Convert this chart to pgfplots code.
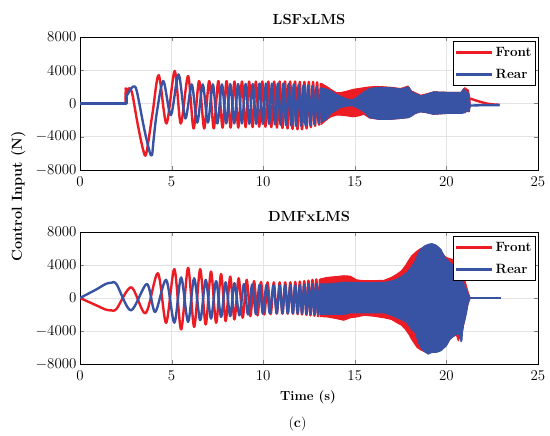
\RequirePackage{fix-cm}
\documentclass[border=0pt]{standalone}
\usepackage{fontspec}
\usepackage{pgfplots}
\pgfplotsset{compat=1.18}
\definecolor{redc}{RGB}{237,28,36}
\definecolor{bluec}{RGB}{57,83,164}
\pgfplotsset{
  myax/.style={
    scale only axis, width=458bp, anchor=south west,
    xmin=0, xmax=25, ymin=-8000, ymax=8000,
    xtick={0,5,10,15,20,25}, ytick={-8000,-4000,0,4000,8000},
    scaled y ticks=false,
    yticklabel style={/pgf/number format/1000 sep={}},
    xticklabel style={yshift=-3bp},
    tick label style={font=\fontsize{15}{15}\selectfont},
    grid=major, major grid style={line width=0.5bp, gray!22},
    tick align=inside, major tick length=4bp,
    axis line style={line width=0.7bp},
    legend style={at={(0.9956,0.97)}, anchor=north east, draw=black, line width=0.8bp,
      inner xsep=2bp, inner ysep=4bp, font=\bfseries\fontsize{13.5}{13.5}\selectfont, row sep=7bp},
    legend cell align=left,
    legend image code/.code={\draw[##1, line width=2.6bp] (0bp,0bp) -- (36bp,0bp);},
  },
  rl/.style={redc, line width=2.4bp, line join=round, forget plot},
  bl/.style={bluec, line width=2.4bp, line join=round, forget plot},
  rf/.style={draw=redc, fill=redc, line width=1bp, line join=round, forget plot},
  bf/.style={draw=bluec, fill=bluec, line width=1bp, line join=round, forget plot},
}
\begin{document}
\begin{tikzpicture}
% ================= TOP: LSFxLMS =================
\begin{axis}[myax, height=133bp, at={(80bp,266bp)}]
\addplot[rl] coordinates {(0,0) (2.48,0) (2.5,1900)};
\addplot[rl, smooth] coordinates {
(2.5,1900) (2.57,1300) (2.68,1850) (2.85,1200) (3.15,-2500) (3.45,-5600) (3.62,-6000)
(3.97,-1000) (4.3,3400) (4.72,-2400) (5.17,3900) (5.5,-2400) (5.9,3300) (6.2,-3000)
(6.5,2700) (6.78,-3000) (7.05,2700) (7.3,-3000) (7.55,2700) (7.78,-2900) (8.0,2700)
(8.22,-2900) (8.43,2650) (8.64,-2900) (8.84,2650) (9.04,-2850) (9.23,2650) (9.42,-2850)
(9.6,2650) (9.78,-2800) (9.95,2650) (10.12,-2800) (10.28,2650) (10.44,-2850) (10.6,2650)
(10.75,-2900) (10.9,2650) (11.05,-2950) (11.19,2650) (11.33,-3000) (11.47,2650) (11.6,-3050)
(11.74,2650) (11.87,-3100) (12.0,2600) (12.12,-3100) (12.25,2600) (12.37,-3000) (12.49,2600)
(12.6,-2850) (12.72,2600) (12.83,-2700) (12.94,2550) (13.05,-2550) (13.15,2450)};
\addplot[rf] coordinates {
(13.15,2450) (13.5,2000) (13.7,1700) (14.0,1300) (14.2,1300) (14.6,1500) (14.9,1700)
(15.2,1800) (15.5,1900) (15.8,2000) (16.3,2050) (17.0,1950) (17.5,1800) (17.9,2100)
(18.1,1500) (18.3,1300) (18.6,1000) (18.9,1150) (19.3,1400) (20.0,1350) (20.8,1350)
(21.0,1900) (21.2,1600) (21.3,500)
(21.3,-400) (21.2,-1000) (21.0,-900) (20.8,-1200) (20.0,-1200) (19.3,-1300) (18.9,-1100)
(18.6,-1000) (18.3,-1200) (18.1,-1500) (17.9,-1700) (17.5,-1800) (17.0,-1900) (16.3,-1900)
(15.8,-1750) (15.5,-1300) (15.2,-1500) (14.9,-1600) (14.6,-1500) (14.2,-1400) (14.0,-1400)
(13.7,-1600) (13.5,-1900) (13.15,-2550)};
\addplot[rl, smooth] coordinates {(21.3,600) (21.7,300) (22.2,0) (22.6,-120) (22.9,-150)};
\addplot[bl] coordinates {(0,0) (2.53,0) (2.53,800)};
\addplot[bl, smooth] coordinates {
(2.53,800) (2.7,1500) (2.92,2050) (3.1,1500) (3.5,-3000) (3.8,-5800) (3.93,-6200)
(4.02,-4300) (4.2,-1000) (4.55,2700) (4.96,-1400) (5.38,3500) (5.75,-1800) (6.1,2300)
(6.4,-2300) (6.7,2300) (6.98,-2300) (7.25,2300) (7.5,-2400) (7.75,2300) (7.98,-2400)
(8.2,2350) (8.42,-2400) (8.63,2350) (8.84,-2400) (9.04,2350) (9.24,-2450) (9.43,2350)
(9.62,-2450) (9.8,2400) (9.98,-2450) (10.15,2400) (10.32,-2450) (10.48,2400) (10.64,-2500)
(10.8,2400) (10.95,-2550) (11.1,2400) (11.25,-2600) (11.39,2350) (11.53,-2650) (11.67,2300)
(11.8,-2700) (11.94,2250) (12.07,-2700) (12.2,2200) (12.32,-2650) (12.45,2150) (12.57,-2600)
(12.69,2100) (12.8,-2500) (12.92,2000) (13.03,-2350) (13.14,1900)};
\addplot[bf] coordinates {
(13.14,1900) (13.5,1700) (13.7,1500) (14.0,1100) (14.2,900) (14.6,500) (14.9,450)
(15.2,900) (15.5,1400) (15.8,1800) (16.3,1950) (17.0,1900) (17.5,1750) (17.95,2000)
(18.1,1400) (18.3,1200) (18.6,900) (18.9,1100) (19.3,1400) (20.0,1350) (20.8,1350)
(20.95,1800) (21.05,1100) (21.15,1600) (21.25,600) (21.3,-200)
(21.3,-300) (21.25,-1000) (21.15,-600) (21.05,-1100) (20.8,-1200) (20.0,-1200) (19.3,-1300)
(18.9,-1100) (18.6,-1000) (18.3,-1200) (18.1,-1500) (17.95,-1700) (17.5,-1800) (17.0,-1900)
(16.3,-1900) (15.8,-1700) (15.5,-1000) (15.2,-600) (14.9,-300) (14.6,-300) (14.2,-500)
(14.0,-800) (13.7,-1200) (13.5,-1800) (13.14,-2300)};
\addplot[bl] coordinates {(21.3,-250) (22.0,-200) (22.9,-200)};
\addlegendimage{redc}\addlegendentry{Front}
\addlegendimage{bluec}\addlegendentry{Rear}
\end{axis}
% ================= BOTTOM: DMFxLMS =================
\begin{axis}[myax, height=132bp, at={(80bp,72bp)}]
\addplot[rl, smooth] coordinates {
(0,0) (0.9,-900) (1.4,-1400) (1.71,-1500) (2.0,-1300) (2.8,1300) (3.58,-1850) (4.25,3000)
(4.7,-3000) (5.15,3500) (5.52,-3800) (5.9,3650) (6.23,-3500) (6.56,3500) (6.86,-3200)
(7.15,3200) (7.43,-3000) (7.7,2900) (7.95,-2800) (8.2,2600) (8.43,-2600) (8.66,2400)
(8.88,-2400) (9.1,2200) (9.3,-2200) (9.5,2050) (9.69,-2100) (9.88,1950) (10.06,-2000)
(10.24,1900) (10.41,-1950) (10.58,1900) (10.74,-1900) (10.9,1900) (11.05,-1900) (11.2,1900)
(11.34,-1900) (11.48,1900) (11.62,-1900) (11.75,1950) (11.88,-1950) (12.0,2000) (12.12,-2000)
(12.24,2050) (12.36,-2050) (12.47,2100) (12.58,-2100) (12.69,2200) (12.8,-2150) (12.9,2250)
(13.0,-2200) (13.1,2300)};
\addplot[rf] coordinates {
(13.1,2300) (13.5,2500) (14.0,2600) (14.4,2700) (14.75,2650) (15.1,2200) (15.5,2100)
(16.0,2100) (16.6,2150) (17.0,2500) (17.3,2900) (17.55,3300) (17.76,3900) (17.95,4600)
(18.1,5100) (18.4,5700) (18.6,6000) (18.8,6200) (19.0,6300) (19.2,6400) (19.5,6200)
(19.7,5700) (19.9,5100) (20.0,4900) (20.3,4700) (20.6,4400) (20.75,3800) (20.85,3000)
(21.0,2200) (21.15,1000) (21.3,0)
(21.15,-1000) (21.0,-2500) (20.9,-3900) (20.75,-4600) (20.65,-5200) (20.55,-4500)
(20.3,-4700) (20.0,-5500) (19.7,-6300) (19.5,-6500) (19.2,-6600) (19.0,-6700) (18.8,-6500)
(18.6,-6300) (18.4,-6000) (18.1,-5000) (17.95,-4400) (17.76,-3800) (17.55,-3300) (17.3,-3000)
(17.0,-2600) (16.6,-2400) (16.0,-2200) (15.5,-2100) (15.1,-2300) (14.75,-2400) (14.4,-2700)
(14.0,-2500) (13.5,-2300) (13.1,-2250)};
\addplot[rl] coordinates {(21.3,0) (23,0)};
\addplot[bl, smooth] coordinates {
(0,0) (0.9,1050) (1.4,1700) (1.71,1850) (2.0,1650) (2.78,-1500) (3.65,1700) (4.1,-1700)
(4.7,2200) (5.15,-3000) (5.52,2500) (5.9,-2900) (6.23,2400) (6.56,-2700) (6.86,2200)
(7.15,-2500) (7.43,2050) (7.7,-2300) (7.95,1900) (8.2,-2200) (8.43,1800) (8.7,-2100)
(8.95,1700) (9.17,-2000) (9.4,1650) (9.6,-1950) (9.8,1600) (9.98,-1900) (10.18,1600)
(10.36,-1850) (10.56,1550) (10.74,-1850) (10.9,1550) (11.05,-1850) (11.2,1550) (11.34,-1850)
(11.48,1550) (11.62,-1850) (11.75,1550) (11.88,-1850) (12.0,1600) (12.12,-1850) (12.24,1600)
(12.36,-1900) (12.47,1650) (12.58,-1900) (12.69,1650) (12.8,-1950) (12.9,1700) (13.0,-1950)
(13.1,1700)};
\addplot[bf] coordinates {
(13.1,1700) (13.5,1700) (14.0,1800) (14.4,1900) (14.75,1900) (15.5,1850) (16.6,1900)
(17.0,2050) (17.3,2300) (17.55,2600) (17.85,3100) (18.1,3800) (18.3,4500) (18.45,5300)
(18.6,5900) (18.8,6300) (19.0,6500) (19.2,6600) (19.45,6400) (19.7,5900) (19.85,5200)
(20.0,4700) (20.2,4300) (20.6,3500) (20.75,3000) (20.85,2200) (21.0,1500) (21.1,1000)
(21.2,400) (21.3,0)
(21.2,-500) (21.1,-1800) (21.0,-2800) (20.9,-3500) (20.85,-5100) (20.8,-5300) (20.7,-4500)
(20.6,-4300) (20.2,-5000) (20.0,-5800) (19.7,-6400) (19.45,-6600) (19.2,-6600) (19.0,-6800)
(18.8,-6500) (18.6,-6000) (18.45,-5300) (18.3,-4200) (18.1,-3800) (17.85,-3000) (17.55,-2600)
(17.3,-2400) (17.0,-2100) (16.6,-1800) (15.5,-1800) (14.75,-1800) (14.4,-2000) (14.0,-2000)
(13.5,-2000) (13.1,-2000)};
\addplot[bl] coordinates {(21.3,0) (23,0)};
\addlegendimage{redc}\addlegendentry{Front}
\addlegendimage{bluec}\addlegendentry{Rear}
\end{axis}
% ================= texts =================
\node[anchor=base, font=\bfseries\fontsize{14.7}{15}\selectfont, inner sep=0] at (309bp,411bp) {LSFxLMS};
\node[anchor=base, font=\bfseries\fontsize{14.7}{15}\selectfont, inner sep=0] at (309bp,214.3bp) {DMFxLMS};
\node[rotate=90, font=\bfseries\fontsize{14.5}{15}\selectfont, inner sep=0] at (18.3bp,239.5bp) {Control Input (N)};
\node[font=\bfseries\fontsize{13.2}{14}\selectfont, inner sep=0] at (308bp,39bp) {Time (s)};
\node[font=\fontsize{14.2}{15}\selectfont, inner sep=0] at (297.5bp,12bp) {(\textbf{c})};
\pgfresetboundingbox
\path[use as bounding box] (0,0) rectangle (550bp,436bp);
\end{tikzpicture}
\end{document}
